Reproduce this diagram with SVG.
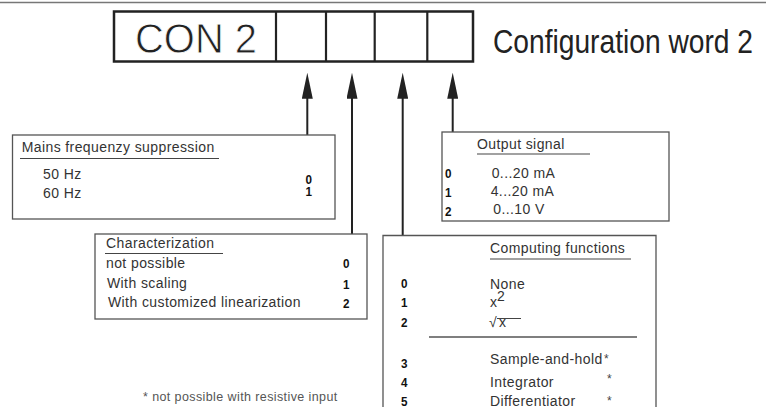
<svg xmlns="http://www.w3.org/2000/svg" width="766" height="407" viewBox="0 0 766 407">
<defs>
<style>
.t{font-family:"Liberation Sans",Arial,sans-serif;font-size:14px;letter-spacing:0.4px;fill:#333}
.d{font-family:"Liberation Sans",Arial,sans-serif;font-size:13.5px;font-weight:bold;fill:#111}
.box{fill:#fff;stroke:#555;stroke-width:1.3}
.ul{stroke:#444;stroke-width:1.2}
.big{font-family:"Liberation Sans",Arial,sans-serif;fill:#222}
.shaft{stroke:#222;stroke-width:2;fill:none}
.star{font-family:"Liberation Sans",Arial,sans-serif;font-size:12px;fill:#444}
</style>
<marker id="ah" viewBox="0 0 26 11" refX="8.7" refY="5.5" markerWidth="26" markerHeight="11" markerUnits="userSpaceOnUse" orient="auto">
<path d="M0,0 L26,5.5 L0,11 Z" fill="#222"/>
</marker>
</defs>
<line x1="0" y1="2.5" x2="766" y2="2.5" stroke="#777" stroke-width="1.5"/>

<g id="header">
<rect x="114" y="11.5" width="359" height="50" fill="#fff" stroke="#222" stroke-width="2.5"/>
<line x1="276" y1="11.5" x2="276" y2="61.5" stroke="#222" stroke-width="2.2"/>
<line x1="326" y1="11.5" x2="326" y2="61.5" stroke="#222" stroke-width="2.2"/>
<line x1="374.7" y1="11.5" x2="374.7" y2="61.5" stroke="#222" stroke-width="2.2"/>
<line x1="427.3" y1="11.5" x2="427.3" y2="61.5" stroke="#222" stroke-width="2.2"/>
<text class="big" x="135" y="53.3" font-size="42" textLength="122" lengthAdjust="spacingAndGlyphs" stroke="#fff" stroke-width="0.8">CON 2</text>
<text class="big" x="493" y="53.3" font-size="34" textLength="260" lengthAdjust="spacingAndGlyphs">Configuration word 2</text>
</g>

<g id="connectors">
<line class="shaft" x1="307.3" y1="135" x2="307.3" y2="90" marker-end="url(#ah)"/>
<line class="shaft" x1="352" y1="234" x2="352" y2="90" marker-end="url(#ah)"/>
<line class="shaft" x1="402.7" y1="235.5" x2="402.7" y2="90" marker-end="url(#ah)"/>
<line class="shaft" x1="452.7" y1="132" x2="452.7" y2="90" marker-end="url(#ah)"/>
</g>

<g id="mains">
<rect class="box" x="12.5" y="135" width="322.5" height="84"/>
<text class="t" x="21.7" y="152">Mains frequenzy suppression</text>
<line class="ul" x1="20" y1="158.5" x2="219" y2="158.5"/>
<text class="t" x="43" y="179">50 Hz</text>
<text class="t" x="43" y="198">60 Hz</text>
<text class="d" x="305.5" y="184" textLength="6.5" lengthAdjust="spacingAndGlyphs">0</text>
<text class="d" x="305.5" y="196" textLength="6.5" lengthAdjust="spacingAndGlyphs">1</text>
</g>

<g id="characterization">
<rect class="box" x="95" y="234" width="272" height="85"/>
<text class="t" x="106" y="248">Characterization</text>
<line class="ul" x1="105" y1="253.5" x2="223" y2="253.5"/>
<text class="t" x="106" y="268">not possible</text>
<text class="t" x="107" y="288">With scaling</text>
<text class="t" x="108" y="307">With customized linearization</text>
<text class="d" x="343" y="268" textLength="6.5" lengthAdjust="spacingAndGlyphs">0</text>
<text class="d" x="343" y="288.5" textLength="6.5" lengthAdjust="spacingAndGlyphs">1</text>
<text class="d" x="343" y="307.5" textLength="6.5" lengthAdjust="spacingAndGlyphs">2</text>
</g>

<g id="output">
<rect class="box" x="442" y="132" width="227" height="89"/>
<text class="t" x="477" y="148.5">Output signal</text>
<line class="ul" x1="477" y1="154" x2="590" y2="154"/>
<text class="d" x="445" y="178" textLength="6.5" lengthAdjust="spacingAndGlyphs">0</text>
<text class="d" x="445" y="196.5" textLength="6.5" lengthAdjust="spacingAndGlyphs">1</text>
<text class="d" x="445" y="216" textLength="6.5" lengthAdjust="spacingAndGlyphs">2</text>
<text class="t" x="491.7" y="177.5">0...20 mA</text>
<text class="t" x="490.7" y="195.5">4...20 mA</text>
<text class="t" x="493.3" y="214">0...10 V</text>
</g>

<g id="computing">
<path d="M383,410 L383,235.5 L656,235.5 L656,410" fill="#fff" stroke="#555" stroke-width="1.3"/>
<text class="t" x="490" y="253">Computing functions</text>
<line class="ul" x1="490" y1="259" x2="631" y2="259"/>
<text class="d" x="401" y="287.5" textLength="6.5" lengthAdjust="spacingAndGlyphs">0</text>
<text class="d" x="401" y="307" textLength="6.5" lengthAdjust="spacingAndGlyphs">1</text>
<text class="d" x="401" y="327" textLength="6.5" lengthAdjust="spacingAndGlyphs">2</text>
<text class="t" x="490" y="289">None</text>
<text class="t" x="490" y="307">x</text>
<text class="t" x="497" y="301" font-size="12">2</text>
<text class="t" x="489" y="327" font-size="14">√</text>
<line x1="497" y1="318.5" x2="521" y2="318.5" stroke="#444" stroke-width="1"/>
<text class="t" x="499" y="327">x</text>
<line x1="429" y1="337" x2="637" y2="337" stroke="#555" stroke-width="1.5"/>
<text class="d" x="401" y="368" textLength="6.5" lengthAdjust="spacingAndGlyphs">3</text>
<text class="d" x="401" y="387" textLength="6.5" lengthAdjust="spacingAndGlyphs">4</text>
<text class="d" x="401" y="405.5" textLength="6.5" lengthAdjust="spacingAndGlyphs">5</text>
<text class="t" x="490" y="364">Sample-and-hold</text>
<text class="star" x="604" y="363">*</text>
<text class="t" x="490" y="386.5">Integrator</text>
<text class="star" x="607" y="383">*</text>
<text class="t" x="490" y="406">Differentiator</text>
<text class="star" x="607" y="405">*</text>
</g>

<text x="143" y="401" font-family="Liberation Sans, Arial, sans-serif" font-size="12.5" letter-spacing="0.4" fill="#555">* not possible with resistive input</text>
</svg>
